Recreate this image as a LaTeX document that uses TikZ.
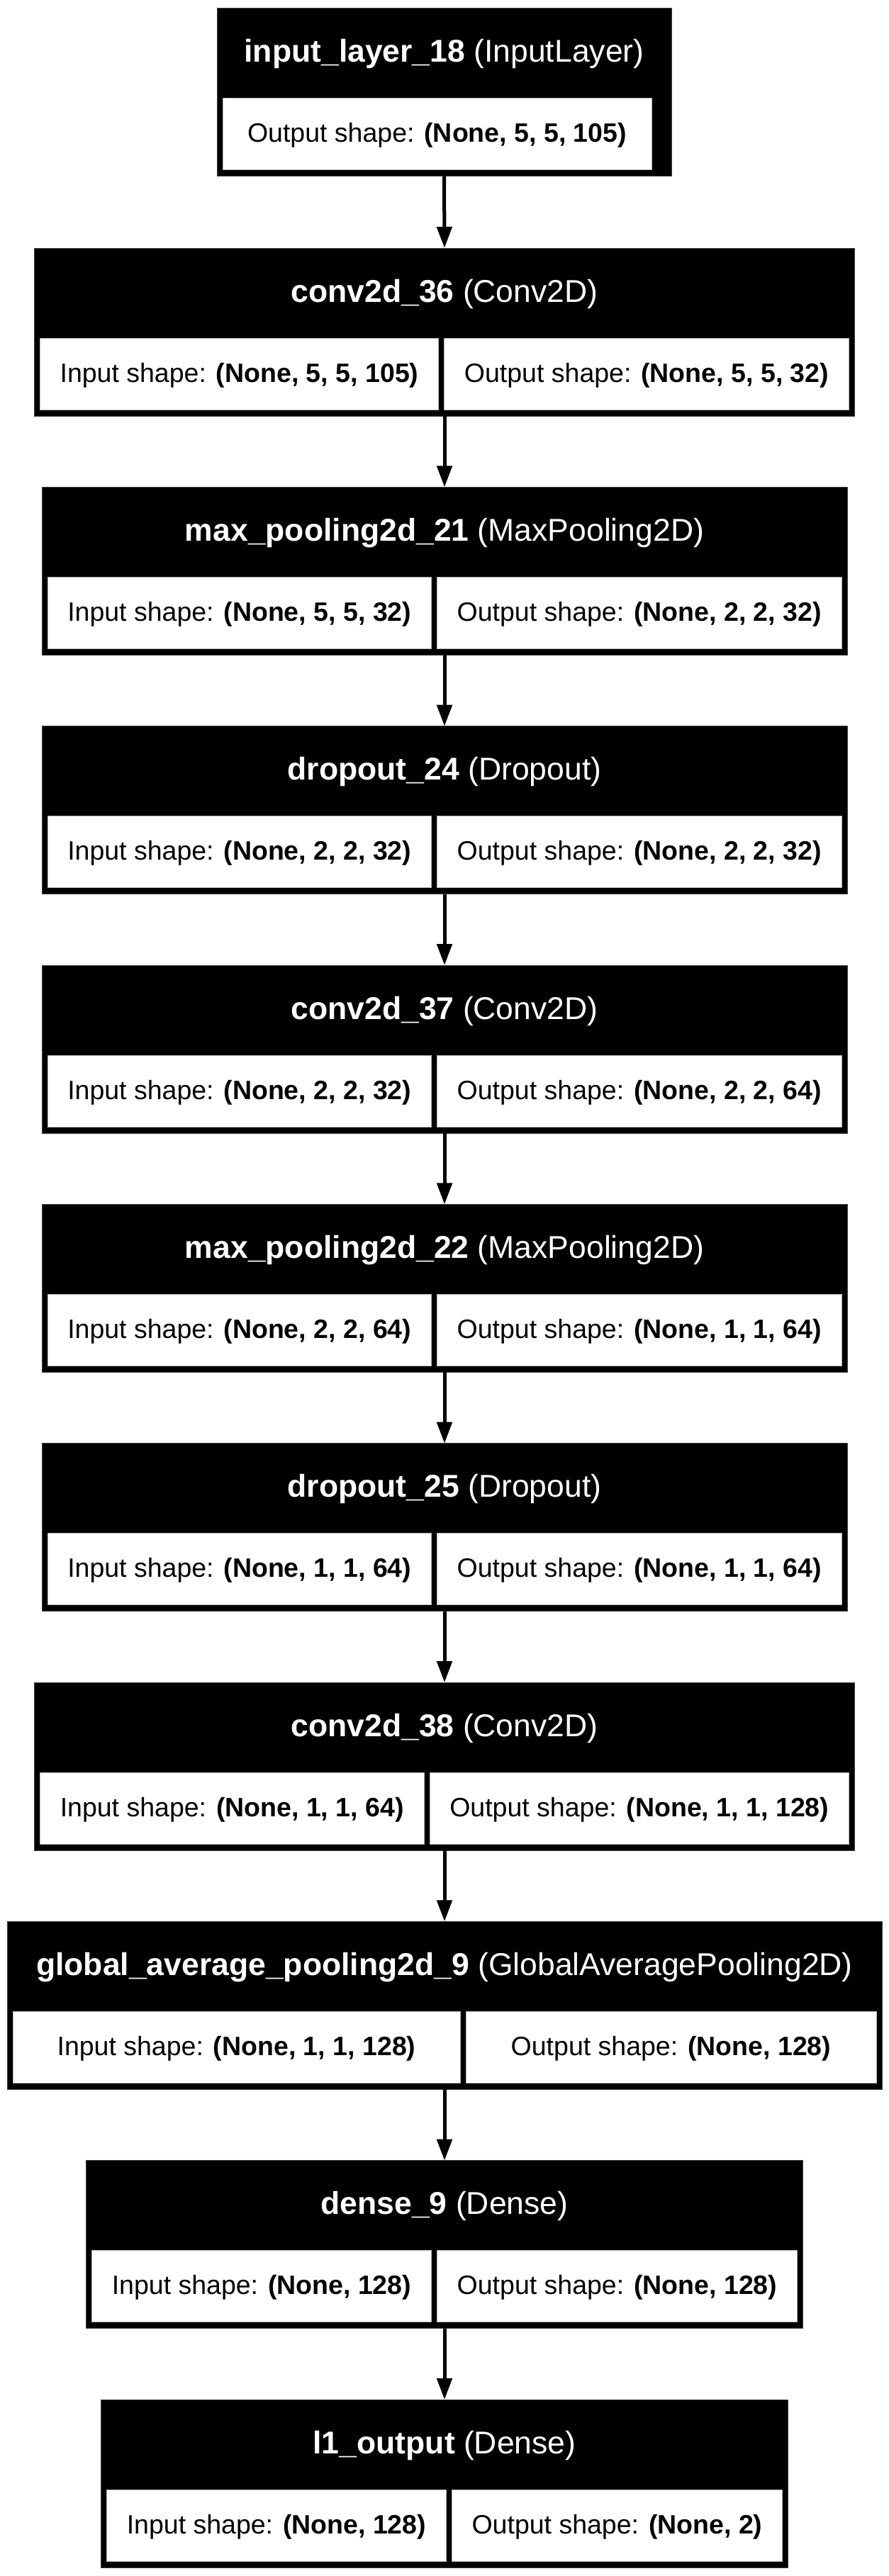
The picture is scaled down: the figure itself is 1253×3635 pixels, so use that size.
\documentclass[tikz,border=0pt]{standalone}
\usepackage{fontspec}
\setmainfont{Liberation Sans}
\usetikzlibrary{arrows.meta}
\tikzset{
  blk/.style={fill=black, draw=black!75, line width=1pt, inner sep=0pt, outer sep=0pt, anchor=north west},
  cellbox/.style={fill=white, draw=black!30, line width=1pt, inner sep=0pt, outer sep=0pt, anchor=north west, minimum height=101},
  hdr/.style={text=white, anchor=base, font=\fontsize{44.5}{50}\selectfont, inner sep=0pt},
  bodytxt/.style={text=black, anchor=base, font=\fontsize{37.5}{42}\selectfont, inner sep=0pt},
  conn/.style={line width=5pt, -{Triangle[length=30pt,width=21pt]}}
}
\newcommand{\twocell}[8]{%
  \node[blk, minimum width={#4-#3}, minimum height=237] (#1) at (#3,#2) {};
  \node[hdr] (#1h) at ({(#3+#4)/2},#2+76) {#6};
  \node[cellbox, minimum width={#5-#3-8}] (#1l) at (#3+8,#2+127) {};
  \node[cellbox, minimum width={#4-#5-16}] (#1r) at (#5+8,#2+127) {};
  \node[bodytxt] (#1lt) at ({(#3+8+#5)/2},#2+189) {#7};
  \node[bodytxt] (#1rt) at ({(#5+#4)/2},#2+189) {#8};
}
% #5 = right edge of the single white cell
\newcommand{\onecell}[7]{%
  \node[blk, minimum width={#4-#3}, minimum height=237] (#1) at (#3,#2) {};
  \node[hdr] (#1h) at ({(#3+#4)/2},#2+76) {#6};
  \node[cellbox, minimum width={#5-#3-8}] (#1c) at (#3+8,#2+127) {};
  \node[bodytxt] (#1ct) at ({(#3+8+#5)/2},#2+189) {#7};
}
\begin{document}
\begin{tikzpicture}[x=1pt,y=-1pt]
\useasboundingbox (0,0) rectangle (1253,3635);
\onecell{b1}{11.5}{306}{947}{919}{\textbf{input\_layer\_18} (InputLayer)}{Output shape: \textbf{(None, 5, 5, 105)}}
\twocell{b2}{350.0}{48.5}{1205.5}{618.5}{\textbf{conv2d\_36} (Conv2D)}{Input shape: \textbf{(None, 5, 5, 105)}}{Output shape: \textbf{(None, 5, 5, 32)}}
\twocell{b3}{687.4}{59}{1195}{608.5}{\textbf{max\_pooling2d\_21} (MaxPooling2D)}{Input shape: \textbf{(None, 5, 5, 32)}}{Output shape: \textbf{(None, 2, 2, 32)}}
\twocell{b4}{1024.7}{59}{1195}{608.5}{\textbf{dropout\_24} (Dropout)}{Input shape: \textbf{(None, 2, 2, 32)}}{Output shape: \textbf{(None, 2, 2, 32)}}
\twocell{b5}{1362.0}{59}{1195}{608.5}{\textbf{conv2d\_37} (Conv2D)}{Input shape: \textbf{(None, 2, 2, 32)}}{Output shape: \textbf{(None, 2, 2, 64)}}
\twocell{b6}{1699.4}{59}{1195}{608.5}{\textbf{max\_pooling2d\_22} (MaxPooling2D)}{Input shape: \textbf{(None, 2, 2, 64)}}{Output shape: \textbf{(None, 1, 1, 64)}}
\twocell{b7}{2036.7}{59}{1195}{608.5}{\textbf{dropout\_25} (Dropout)}{Input shape: \textbf{(None, 1, 1, 64)}}{Output shape: \textbf{(None, 1, 1, 64)}}
\twocell{b8}{2374.0}{48.5}{1205.5}{598}{\textbf{conv2d\_38} (Conv2D)}{Input shape: \textbf{(None, 1, 1, 64)}}{Output shape: \textbf{(None, 1, 1, 128)}}
\twocell{b9}{2711.3}{10}{1244}{649}{\textbf{global\_average\_pooling2d\_9} (GlobalAveragePooling2D)}{Input shape: \textbf{(None, 1, 1, 128)}}{Output shape: \textbf{(None, 128)}}
\twocell{b10}{3048.7}{121.5}{1132.5}{608.5}{\textbf{dense\_9} (Dense)}{Input shape: \textbf{(None, 128)}}{Output shape: \textbf{(None, 128)}}
\twocell{b11}{3386.0}{142.5}{1111.5}{629.5}{\textbf{l1\_output} (Dense)}{Input shape: \textbf{(None, 128)}}{Output shape: \textbf{(None, 2)}}
\draw[conn] (b1.south) -- (b2.north);
\draw[conn] (b2.south) -- (b3.north);
\draw[conn] (b3.south) -- (b4.north);
\draw[conn] (b4.south) -- (b5.north);
\draw[conn] (b5.south) -- (b6.north);
\draw[conn] (b6.south) -- (b7.north);
\draw[conn] (b7.south) -- (b8.north);
\draw[conn] (b8.south) -- (b9.north);
\draw[conn] (b9.south) -- (b10.north);
\draw[conn] (b10.south) -- (b11.north);
\end{tikzpicture}
\end{document}
